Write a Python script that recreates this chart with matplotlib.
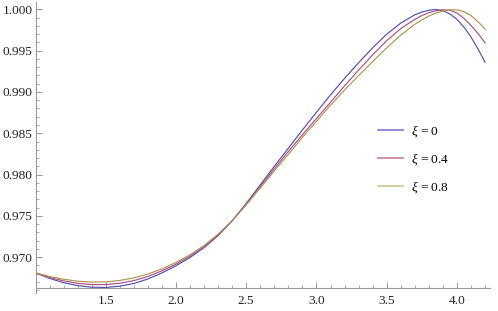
import matplotlib
matplotlib.use("Agg")
import matplotlib.pyplot as plt
from matplotlib.lines import Line2D
from matplotlib.ticker import MultipleLocator, FormatStrFormatter, FixedLocator

plt.rcParams['font.family'] = ['Liberation Serif', 'DejaVu Serif']
plt.rcParams['mathtext.fontset'] = 'custom'
plt.rcParams['mathtext.rm'] = 'Liberation Serif'
plt.rcParams['mathtext.it'] = 'Liberation Serif:italic'

x = [1.0, 1.1, 1.2, 1.3, 1.4, 1.5, 1.6, 1.7, 1.8, 1.9, 2.0, 2.1, 2.2, 2.3, 2.4, 2.5,
     2.6, 2.7, 2.8, 2.9, 3.0, 3.1, 3.2, 3.3, 3.4, 3.5, 3.6, 3.7, 3.75, 3.8, 3.85, 3.9,
     3.95, 4.0, 4.05, 4.1, 4.15, 4.2]

xi_0 = [0.96810, 0.96742, 0.96690, 0.96655, 0.96635, 0.96632, 0.96647, 0.96680, 0.96735,
        0.96808, 0.96895, 0.96995, 0.97115, 0.97260, 0.97440, 0.97650, 0.97875, 0.98100,
        0.98320, 0.98540, 0.98755, 0.98965, 0.99165, 0.99355, 0.99535, 0.99700, 0.99835,
        0.99935, 0.99968, 0.99990, 1.00000, 0.99985, 0.99945, 0.99880, 0.99785, 0.99665,
        0.99520, 0.99360]

xi_04 = [0.96810, 0.96755, 0.96712, 0.96682, 0.96667, 0.96667, 0.96683, 0.96715, 0.96765,
         0.96833, 0.96915, 0.97012, 0.97128, 0.97268, 0.97440, 0.97640, 0.97855, 0.98070,
         0.98280, 0.98482, 0.98680, 0.98875, 0.99075, 0.99266, 0.99450, 0.99622, 0.99768,
         0.99880, 0.99925, 0.99960, 0.99983, 0.99995, 0.99990, 0.99955, 0.99892, 0.99805,
         0.99708, 0.99595]

xi_08 = [0.96810, 0.96765, 0.96732, 0.96708, 0.96697, 0.96700, 0.96717, 0.96748, 0.96795,
         0.96857, 0.96935, 0.97028, 0.97140, 0.97278, 0.97442, 0.97632, 0.97838, 0.98045,
         0.98245, 0.98450, 0.98645, 0.98840, 0.99025, 0.99200, 0.99370, 0.99535, 0.99690,
         0.99820, 0.99873, 0.99920, 0.99955, 0.99980, 0.99995, 0.99995, 0.99972, 0.99925,
         0.99852, 0.99760]

labels = [r'$\xi$ = 0', r'$\xi$ = 0.4', r'$\xi$ = 0.8']
colors = ['#5050b0', '#ac5085', '#ac9652']
legend_colors = ['#8585d0', '#cc85aa', '#d6cba0']

x_major = [1.5, 2.0, 2.5, 3.0, 3.5, 4.0]
y_major = [0.970, 0.975, 0.980, 0.985, 0.990, 0.995, 1.000]

fig = plt.figure(figsize=(4.98, 3.11), dpi=100)
ax = fig.add_axes([35.5 / 498, 18 / 311, (490 - 35.5) / 498, 291 / 311])

for ys, c in zip([xi_0, xi_04, xi_08], colors):
    ax.plot(x, ys, color=c, lw=0.85, solid_joinstyle='round')

ax.set_xlim(1.0, 4.235)
ax.set_ylim(0.96565, 1.0009)

for s in ['top', 'right']:
    ax.spines[s].set_visible(False)
ax.spines['bottom'].set_position(('data', 0.96625))
for s in ['left', 'bottom']:
    ax.spines[s].set_color('#9a9a9a')
    ax.spines[s].set_linewidth(0.8)

ax.xaxis.set_major_locator(FixedLocator(x_major))
ax.xaxis.set_minor_locator(MultipleLocator(0.1))
ax.xaxis.set_major_formatter(FormatStrFormatter('%.1f'))
ax.yaxis.set_major_locator(FixedLocator(y_major))
ax.yaxis.set_minor_locator(MultipleLocator(0.001))
ax.yaxis.set_major_formatter(FormatStrFormatter('%.3f'))

ax.tick_params(which='major', direction='in', length=4.5, width=0.7, color='#9a9a9a',
               labelsize=9.6, labelcolor='#222222')
ax.tick_params(which='minor', direction='in', length=2.5, width=0.6, color='#9a9a9a')
ax.tick_params(axis='y', which='major', pad=2)
ax.tick_params(axis='x', which='major', pad=5)

handles = [Line2D([], [], color=c, lw=1.3) for c in legend_colors]
ax.legend(handles, labels, loc='upper left', frameon=False, fontsize=9.6,
          bbox_to_anchor=(378 / 498, 1 - 123 / 311), bbox_transform=fig.transFigure,
          borderpad=0, borderaxespad=0, handlelength=1.9, handletextpad=0.55,
          labelspacing=0.92)

fig.savefig('out.png', dpi=100)
